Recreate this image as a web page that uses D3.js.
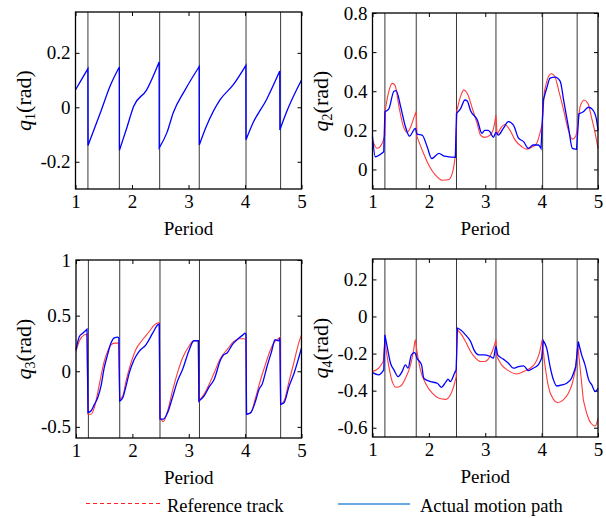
<!DOCTYPE html>
<html>
<head>
<meta charset="utf-8">
<script src="https://cdn.jsdelivr.net/npm/d3@7/dist/d3.min.js"></script>
<style>
  html, body { margin: 0; padding: 0; background: #fff; }
  svg, svg text { font-family: "Liberation Serif", "DejaVu Serif", serif; }
</style>
</head>
<body>
<svg id="chart" width="606" height="518"></svg>
<script>
// switching instants (period) shown as vertical lines in every panel
const switchPeriods = [1.22, 1.776, 2.49, 3.19, 4.018, 4.63];
const xTicks = [1, 2, 3, 4, 5];

// q1 (only the actual path is visible)
const q1ActT = [1.0, 1.09, 1.22, 1.222, 1.44, 1.62, 1.776, 1.778, 1.91, 2.03, 2.26, 2.48, 2.482, 2.62, 2.73, 2.94, 3.19, 3.192, 3.32, 3.56, 3.79, 4.016, 4.018, 4.145, 4.38, 4.615, 4.617, 4.73, 5.0];
const q1ActV = [0.064, 0.096, 0.142, -0.14, -0.02, 0.082, 0.148, -0.158, -0.074, 0.004, 0.064, 0.166, -0.149, -0.092, -0.02, 0.064, 0.15, -0.138, -0.068, 0.028, 0.082, 0.154, -0.119, -0.056, 0.028, 0.133, -0.083, -0.02, 0.10];

// q2
const q2RefT = [1.0, 1.08, 1.17, 1.22, 1.23, 1.29, 1.35, 1.40, 1.47, 1.54, 1.615, 1.69, 1.75, 1.775, 1.79, 1.88, 2.0, 2.12, 2.235, 2.355, 2.43, 2.47, 2.50, 2.56, 2.62, 2.68, 2.77, 2.855, 2.915, 2.99, 3.09, 3.16, 3.19, 3.21, 3.29, 3.35, 3.44, 3.53, 3.65, 3.735, 3.825, 3.91, 3.97, 4.01, 4.05, 4.11, 4.17, 4.23, 4.30, 4.39, 4.475, 4.545, 4.605, 4.64, 4.68, 4.75, 4.82, 4.89, 4.95, 5.0];
const q2RefV = [0.15, 0.108, 0.133, 0.176, 0.31, 0.40, 0.44, 0.43, 0.32, 0.227, 0.19, 0.227, 0.278, 0.295, 0.167, 0.10, 0.022, -0.03, -0.055, -0.051, -0.004, 0.073, 0.304, 0.372, 0.407, 0.39, 0.313, 0.236, 0.176, 0.164, 0.176, 0.227, 0.278, 0.176, 0.218, 0.23, 0.20, 0.15, 0.116, 0.104, 0.113, 0.133, 0.185, 0.236, 0.40, 0.467, 0.489, 0.478, 0.407, 0.304, 0.20, 0.155, 0.17, 0.227, 0.32, 0.355, 0.338, 0.26, 0.185, 0.108];
const q2ActT = [1.0, 1.05, 1.20, 1.22, 1.29, 1.38, 1.42, 1.50, 1.585, 1.656, 1.76, 1.79, 1.88, 1.97, 2.05, 2.18, 2.27, 2.47, 2.49, 2.56, 2.64, 2.68, 2.74, 2.86, 2.94, 2.99, 3.05, 3.09, 3.145, 3.19, 3.23, 3.32, 3.41, 3.50, 3.59, 3.68, 3.765, 3.85, 3.94, 3.99, 4.03, 4.09, 4.15, 4.24, 4.33, 4.39, 4.475, 4.545, 4.62, 4.66, 4.74, 4.83, 4.90, 4.97, 5.0];
const q2ActV = [0.167, 0.065, 0.09, 0.295, 0.31, 0.40, 0.403, 0.32, 0.218, 0.17, 0.21, 0.18, 0.176, 0.116, 0.056, 0.082, 0.068, 0.062, 0.287, 0.31, 0.355, 0.35, 0.30, 0.253, 0.185, 0.20, 0.20, 0.19, 0.164, 0.19, 0.176, 0.21, 0.245, 0.227, 0.16, 0.142, 0.108, 0.125, 0.125, 0.108, 0.355, 0.415, 0.467, 0.472, 0.45, 0.355, 0.218, 0.108, 0.103, 0.284, 0.295, 0.318, 0.307, 0.26, 0.20];

// q3
const q3RefT = [1.0, 1.06, 1.147, 1.195, 1.213, 1.266, 1.325, 1.385, 1.443, 1.50, 1.56, 1.62, 1.68, 1.76, 1.775, 1.83, 1.887, 1.975, 2.06, 2.18, 2.30, 2.39, 2.477, 2.49, 2.55, 2.625, 2.71, 2.80, 2.89, 3.0, 3.09, 3.17, 3.18, 3.27, 3.36, 3.45, 3.565, 3.68, 3.80, 3.89, 3.98, 4.015, 4.025, 4.10, 4.185, 4.275, 4.36, 4.45, 4.53, 4.60, 4.617, 4.63, 4.69, 4.78, 4.87, 4.95, 5.0];
const q3RefV = [0.179, 0.274, 0.327, 0.333, -0.387, -0.387, -0.327, -0.194, -0.045, 0.089, 0.179, 0.238, 0.253, 0.253, -0.253, -0.223, -0.089, 0.074, 0.194, 0.283, 0.357, 0.417, 0.4375, -0.417, -0.452, -0.357, -0.179, -0.015, 0.119, 0.223, 0.274, 0.274, -0.268, -0.208, -0.119, -0.015, 0.119, 0.194, 0.268, 0.292, 0.292, 0.283, -0.387, -0.372, -0.238, -0.074, 0.06, 0.194, 0.268, 0.298, 0.304, -0.298, -0.268, -0.089, 0.089, 0.253, 0.327];
const q3ActT = [1.0, 1.06, 1.12, 1.195, 1.213, 1.266, 1.325, 1.385, 1.443, 1.50, 1.56, 1.62, 1.68, 1.74, 1.76, 1.775, 1.83, 1.887, 1.945, 2.03, 2.12, 2.24, 2.36, 2.45, 2.477, 2.49, 2.55, 2.625, 2.71, 2.80, 2.89, 3.0, 3.09, 3.17, 3.18, 3.27, 3.36, 3.45, 3.565, 3.62, 3.68, 3.77, 3.89, 3.96, 4.0, 4.015, 4.025, 4.10, 4.185, 4.245, 4.30, 4.39, 4.47, 4.53, 4.59, 4.617, 4.63, 4.69, 4.78, 4.87, 4.95, 5.0];
const q3ActV = [0.194, 0.3125, 0.342, 0.378, -0.372, -0.357, -0.30, -0.238, -0.134, 0.03, 0.149, 0.253, 0.30, 0.306, 0.30, -0.268, -0.238, -0.134, -0.015, 0.104, 0.179, 0.238, 0.342, 0.417, 0.425, -0.43, -0.43, -0.372, -0.238, -0.089, 0.015, 0.179, 0.274, 0.274, -0.268, -0.223, -0.143, -0.074, 0.104, 0.149, 0.164, 0.238, 0.298, 0.327, 0.342, 0.33, -0.387, -0.372, -0.268, -0.164, -0.119, 0.045, 0.179, 0.283, 0.274, 0.298, -0.298, -0.283, -0.134, -0.015, 0.119, 0.208];

// q4
const q4RefT = [1.0, 1.11, 1.19, 1.22, 1.29, 1.35, 1.42, 1.50, 1.585, 1.675, 1.73, 1.76, 1.78, 1.85, 1.94, 2.06, 2.18, 2.295, 2.38, 2.44, 2.485, 2.50, 2.56, 2.65, 2.74, 2.83, 2.915, 2.99, 3.09, 3.145, 3.19, 3.205, 3.29, 3.41, 3.56, 3.68, 3.795, 3.885, 3.96, 4.01, 4.05, 4.12, 4.21, 4.285, 4.385, 4.475, 4.545, 4.605, 4.64, 4.68, 4.74, 4.80, 4.875, 4.95, 5.0];
const q4RefV = [-0.297, -0.279, -0.243, -0.135, -0.27, -0.351, -0.382, -0.375, -0.333, -0.261, -0.18, -0.126, -0.171, -0.288, -0.36, -0.414, -0.441, -0.447, -0.423, -0.378, -0.324, -0.072, -0.09, -0.135, -0.189, -0.225, -0.243, -0.243, -0.212, -0.171, -0.126, -0.216, -0.261, -0.292, -0.31, -0.297, -0.279, -0.252, -0.198, -0.126, -0.243, -0.378, -0.447, -0.465, -0.45, -0.414, -0.36, -0.279, -0.153, -0.27, -0.45, -0.522, -0.576, -0.591, -0.549];
const q4ActT = [1.0, 1.11, 1.20, 1.22, 1.26, 1.32, 1.38, 1.455, 1.525, 1.585, 1.63, 1.69, 1.75, 1.79, 1.87, 1.91, 2.03, 2.15, 2.22, 2.305, 2.34, 2.38, 2.46, 2.485, 2.505, 2.56, 2.65, 2.74, 2.80, 2.885, 2.99, 3.09, 3.145, 3.19, 3.22, 3.32, 3.41, 3.50, 3.59, 3.68, 3.765, 3.85, 3.94, 4.0, 4.03, 4.09, 4.15, 4.21, 4.27, 4.36, 4.445, 4.53, 4.605, 4.65, 4.71, 4.77, 4.835, 4.89, 4.95, 5.0];
const q4ActV = [-0.303, -0.315, -0.288, -0.099, -0.162, -0.252, -0.288, -0.324, -0.297, -0.261, -0.279, -0.207, -0.195, -0.225, -0.261, -0.333, -0.351, -0.36, -0.382, -0.351, -0.338, -0.351, -0.303, -0.288, -0.063, -0.072, -0.099, -0.135, -0.18, -0.207, -0.207, -0.216, -0.225, -0.162, -0.207, -0.23, -0.252, -0.279, -0.27, -0.266, -0.292, -0.279, -0.261, -0.225, -0.13, -0.171, -0.27, -0.342, -0.375, -0.369, -0.36, -0.333, -0.27, -0.135, -0.207, -0.261, -0.342, -0.369, -0.405, -0.387];

const FONT = "Liberation Serif, DejaVu Serif, serif";
const zip = (t, v) => t.map((d, i) => ({ t: d, v: v[i] }));

const panels = [
  { sub: "1", x0: 75.5, x1: 301.5, y0: 12, y1: 189, dom: [-0.3, 0.35], ticks: [-0.2, 0, 0.2], ref: null, act: zip(q1ActT, q1ActV) },
  { sub: "2", x0: 372.5, x1: 598, y0: 13, y1: 189, dom: [-0.1, 0.8], ticks: [0, 0.2, 0.4, 0.6, 0.8], ref: zip(q2RefT, q2RefV), act: zip(q2ActT, q2ActV) },
  { sub: "3", x0: 76, x1: 301.5, y0: 260, y1: 438, dom: [-0.6, 1], ticks: [-0.5, 0, 0.5, 1], ref: zip(q3RefT, q3RefV), act: zip(q3ActT, q3ActV) },
  { sub: "4", x0: 372.5, x1: 598, y0: 259, y1: 437, dom: [-0.65, 0.31], ticks: [-0.6, -0.4, -0.2, 0, 0.2], ref: zip(q4RefT, q4RefV), act: zip(q4ActT, q4ActV) }
];

const svg = d3.select("#chart");

// smooth between samples, but keep the sharp jumps at the switching instants
function pathWithJumps(data, x, y) {
  const line = d3.line().x((d) => x(d.t)).y((d) => y(d.v)).curve(d3.curveMonotoneX);
  const segs = [[data[0]]];
  for (let i = 1; i < data.length; i++) {
    const dx = x(data[i].t) - x(data[i - 1].t);
    const dy = Math.abs(y(data[i].v) - y(data[i - 1].v));
    if (dy / Math.max(dx, 0.01) > 8) segs.push([]);
    segs[segs.length - 1].push(data[i]);
  }
  return segs.map((s, i) => {
    const d = s.length > 1 ? line(s) : `M${x(s[0].t)},${y(s[0].v)}`;
    return i ? "L" + d.slice(1) : d;
  }).join("");
}

panels.forEach((p) => {
  const x = d3.scaleLinear().domain([1, 5]).range([p.x0, p.x1]);
  const y = d3.scaleLinear().domain(p.dom).range([p.y1, p.y0]);
  const g = svg.append("g");

  const styleAxis = (sel) => {
    sel.attr("font-family", FONT).attr("font-size", 19);
    sel.select(".domain").remove();
    sel.selectAll("line").attr("stroke", "#000").attr("stroke-width", 1);
    sel.selectAll("text").attr("fill", "#000");
  };

  g.append("g").attr("transform", `translate(0,${p.y1})`)
    .call(d3.axisBottom(x).tickValues(xTicks).tickSize(-4).tickPadding(6).tickFormat(d3.format("d")))
    .call(styleAxis);
  g.append("g").attr("transform", `translate(0,${p.y0})`)
    .call(d3.axisTop(x).tickValues(xTicks).tickSize(-4).tickFormat(""))
    .call(styleAxis);
  g.append("g").attr("transform", `translate(${p.x0},0)`)
    .call(d3.axisLeft(y).tickValues(p.ticks).tickSize(-4).tickPadding(5).tickFormat((d) => String(d)))
    .call(styleAxis);
  g.append("g").attr("transform", `translate(${p.x1},0)`)
    .call(d3.axisRight(y).tickValues(p.ticks).tickSize(-4).tickFormat(""))
    .call(styleAxis);

  g.selectAll("line.sw")
    .data(switchPeriods)
    .join("line")
    .attr("class", "sw")
    .attr("x1", (d) => x(d)).attr("x2", (d) => x(d))
    .attr("y1", p.y0).attr("y2", p.y1)
    .attr("stroke", "#222")
    .attr("stroke-width", 0.9);

  if (p.ref) {
    g.append("path")
      .attr("fill", "none").attr("stroke", "#ff3b3b").attr("stroke-width", 1.1)
      .attr("d", pathWithJumps(p.ref, x, y));
  }
  g.append("path")
    .attr("fill", "none").attr("stroke", "#0000ff").attr("stroke-width", 1.3)
    .attr("d", pathWithJumps(p.act, x, y));

  g.append("rect")
    .attr("x", p.x0).attr("y", p.y0)
    .attr("width", p.x1 - p.x0).attr("height", p.y1 - p.y0)
    .attr("fill", "none").attr("stroke", "#000").attr("stroke-width", 1.3);

  g.append("text")
    .attr("x", (p.x0 + p.x1) / 2).attr("y", p.y1 + 46)
    .attr("text-anchor", "middle").attr("font-family", FONT).attr("font-size", 19)
    .text("Period");

  const lab = g.append("text")
    .attr("transform", `translate(${p.x0 - 45},${(p.y0 + p.y1) / 2}) rotate(-90)`)
    .attr("text-anchor", "middle").attr("font-family", FONT).attr("font-size", 22);
  lab.append("tspan").attr("font-style", "italic").text("q");
  lab.append("tspan").attr("font-size", 14).attr("dy", 4).text(p.sub);
  lab.append("tspan").attr("dy", -4).text("(rad)");
});

// legend
const legend = svg.append("g").attr("font-family", FONT).attr("font-size", 18.5);
legend.append("line").attr("x1", 86).attr("x2", 162).attr("y1", 503.5).attr("y2", 503.5)
  .attr("stroke", "#ff2020").attr("stroke-width", 1).attr("stroke-dasharray", "4,3");
legend.append("text").attr("x", 167).attr("y", 511.5).text("Reference track");
legend.append("line").attr("x1", 338).attr("x2", 410).attr("y1", 504).attr("y2", 504)
  .attr("stroke", "#3a8bd8").attr("stroke-width", 1.3);
legend.append("text").attr("x", 420).attr("y", 511.5).text("Actual motion path");
</script>
</body>
</html>
